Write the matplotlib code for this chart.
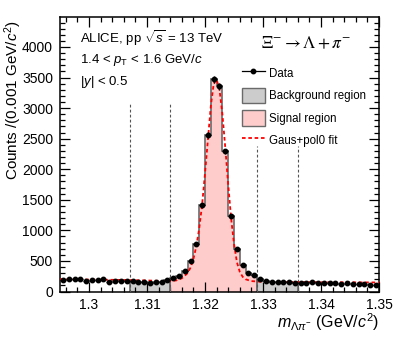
import numpy as np
import matplotlib
matplotlib.use("Agg")
import matplotlib.pyplot as plt
from matplotlib.lines import Line2D
from matplotlib.patches import Patch
from matplotlib.ticker import MultipleLocator

plt.rcParams['font.family'] = ['Liberation Sans', 'DejaVu Sans']
plt.rcParams['mathtext.fontset'] = 'custom'
plt.rcParams['mathtext.rm'] = 'Liberation Sans'
plt.rcParams['mathtext.it'] = 'Liberation Sans:italic'
plt.rcParams['mathtext.bf'] = 'Liberation Sans:bold'

# histogram binning (0.001 GeV/c^2 bins)
bin_lo = 1.295
bin_width = 0.001
counts = [194, 205, 198, 198, 177, 194, 188, 198, 155, 168,
          168, 175, 175, 161, 150, 133, 150, 161, 183, 215,
          249, 340, 495, 770, 1407, 2556, 3470, 3360, 2290, 1235,
          702, 428, 305, 262, 205, 177, 155, 155, 155, 155,
          139, 139, 139, 150, 139, 139, 133, 133, 122, 144,
          122, 122, 122, 111, 105]

# regions
bkg_left = (1.307, 1.314)
signal = (1.314, 1.329)
bkg_right = (1.329, 1.336)

# fit curve
fit_mass = [1.295, 1.300, 1.305, 1.310, 1.313, 1.315, 1.316, 1.317, 1.3175,
            1.318, 1.3185, 1.319, 1.3195, 1.320, 1.3205, 1.321, 1.3215, 1.322,
            1.3225, 1.323, 1.3235, 1.324, 1.3245, 1.325, 1.3255, 1.326, 1.3265,
            1.327, 1.328, 1.330, 1.335, 1.340, 1.345, 1.350]
fit_counts = [200, 195, 190, 180, 172, 180, 215, 300, 390,
              530, 740, 1030, 1420, 1930, 2480, 3030, 3400, 3470,
              3300, 2900, 2350, 1750, 1200, 780, 480, 320, 240,
              200, 170, 158, 155, 152, 150, 148]

counts = np.array(counts, dtype=float)
edges = bin_lo + bin_width * np.arange(len(counts) + 1)
centers = 0.5 * (edges[:-1] + edges[1:])

fig = plt.figure(figsize=(3.99, 3.43), dpi=100)
ax = fig.add_axes([60/399, 1 - 291.5/343, 319/399, 274.5/343])

def region(lo, hi, face):
    sel = (centers > lo) & (centers < hi)
    e = np.append(edges[:-1][sel], edges[1:][sel][-1])
    ax.stairs(counts[sel], e, fill=True, color=face, baseline=0, zorder=1)
    ax.stairs(counts[sel], e, fill=False, baseline=0, color='#6a6a6a',
              linewidth=1.2, zorder=2)

region(*bkg_left, '#cccccc')
region(*bkg_right, '#cccccc')
region(*signal, '#ffcccc')

# region boundaries
for x, top in [(1.307, 3060), (1.314, 3060), (1.329, 2380), (1.336, 2380)]:
    ax.plot([x, x], [0, top], color='#555555', linestyle=(0, (2.5, 2)),
            linewidth=0.8, zorder=3)

ax.plot(fit_mass, fit_counts, color='red', linestyle=(0, (2, 1.5)),
        linewidth=1.3, zorder=4)

ax.errorbar(centers, counts, xerr=bin_width / 2, yerr=np.sqrt(counts),
            fmt='o', color='black', markersize=3.2, elinewidth=0.9,
            capsize=0, zorder=5)

ax.set_xlim(1.295, 1.350)
ax.set_ylim(0, 4490)
ax.xaxis.set_major_locator(MultipleLocator(0.01))
ax.xaxis.set_minor_locator(MultipleLocator(0.002))
ax.yaxis.set_major_locator(MultipleLocator(500))
ax.yaxis.set_minor_locator(MultipleLocator(100))
ax.set_xticks([1.30, 1.31, 1.32, 1.33, 1.34, 1.35])
ax.set_xticklabels(['1.3', '1.31', '1.32', '1.33', '1.34', '1.35'])
ax.tick_params(which='both', direction='in', top=True, right=True,
               labelsize=10, width=0.9)
ax.tick_params(which='major', length=7, pad=5)
ax.tick_params(which='minor', length=3.5)
for s in ax.spines.values():
    s.set_linewidth(1.1)

# axis titles placed as plain texts, ROOT style (aligned to the axis end)
ax.text(-0.148, 0.99, r'Counts /(0.001 GeV/$c^{2}$)', transform=ax.transAxes,
        fontsize=11, rotation=90, rotation_mode='anchor',
        ha='right', va='center')
ax.text(1.0, -0.132, r'$m_{\Lambda\pi^{-}}$ (GeV/$c^{2}$)',
        transform=ax.transAxes, fontsize=11.5, ha='right', va='baseline')

ax.text(0.063, 0.923, r'ALICE, pp $\sqrt{s}$ = 13 TeV', transform=ax.transAxes,
        fontsize=9.5, va='center')
ax.text(0.063, 0.843, r'1.4 < $p_{\rm T}$ < 1.6 GeV/$c$', transform=ax.transAxes,
        fontsize=9.5, va='center')
ax.text(0.063, 0.763, r'|$y$| < 0.5', transform=ax.transAxes,
        fontsize=9.5, va='center')
ax.text(0.773, 0.905, r'$\Xi^{-} \rightarrow \Lambda + \pi^{-}$',
        transform=ax.transAxes, fontsize=12.5, ha='center', va='center',
        math_fontfamily='stix')

handles = [
    Line2D([0], [0], color='black', marker='o', markersize=3.2, linewidth=0.9),
    Patch(facecolor='#cccccc', edgecolor='#6a6a6a', linewidth=1.0),
    Patch(facecolor='#ffcccc', edgecolor='#6a6a6a', linewidth=1.0),
    Line2D([0], [0], color='red', linestyle=(0, (2, 1.5)), linewidth=1.3),
]
labels = ['Data', 'Background region', 'Signal region', 'Gaus+pol0 fit']
ax.legend(handles, labels, loc='upper left', bbox_to_anchor=(0.57, 0.825),
          frameon=False, fontsize=8.3, handlelength=2.0, handleheight=1.7,
          handletextpad=0.4, labelspacing=0.6, borderaxespad=0, borderpad=0)

fig.savefig('out.png', dpi=100)
